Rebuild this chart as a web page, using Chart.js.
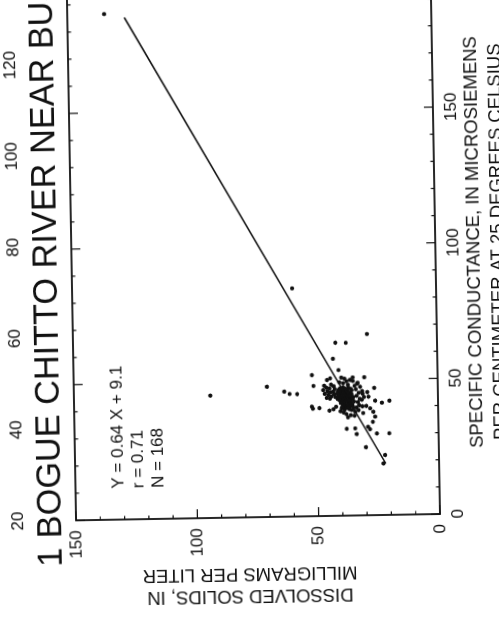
<!DOCTYPE html>
<html>
<head>
<meta charset="utf-8">
<title>Bogue Chitto River near Bush</title>
<script src="https://cdn.jsdelivr.net/npm/chart.js@4.4.1/dist/chart.umd.min.js"></script>
<style>
  html, body { margin: 0; padding: 0; background: #fff; overflow: hidden; width: 499px; height: 634px; }
  /* the scanned page is turned a little more than a quarter turn */
  #page { position: absolute; left: 320px; top: 74px; width: 680px; height: 520px;
          transform-origin: 120px 440px; transform: rotate(-91deg); }
</style>
</head>
<body>
<div id="page"><canvas id="chart" width="680" height="520"></canvas></div>
<script>
  // specific conductance (uS/cm), one value per sample
  const conductance = [
    186.4, 84.1, 45.1, 48.0, 66.8, 63.8, 63.7, 57.9, 53.7, 52.0,
    50.9, 50.1, 50.7, 50.9, 50.9, 48.9, 48.0, 46.1, 45.2, 45.1,
    46.9, 40.4, 39.6, 39.8, 38.8, 39.3, 40.2, 39.6, 43.7, 42.2,
    41.4, 42.1, 40.3, 39.4, 38.1, 36.3, 34.4, 37.7, 32.0, 32.1,
    30.0, 31.7, 30.1, 30.1, 25.1, 22.1, 19.0, 45.8, 45.4, 32.6,
    47.0, 47.3, 46.8, 47.1, 46.5, 46.6, 46.3, 46.7, 46.0, 45.9,
    46.1, 45.8, 46.2, 45.5, 45.4, 45.6, 45.3, 45.0, 44.9, 45.1,
    44.8, 45.2, 44.9, 44.5, 44.4, 44.6, 44.3, 44.0, 43.9, 44.1,
    43.8, 44.0, 43.7, 43.5, 43.4, 43.6, 43.3, 43.0, 42.9, 43.1,
    42.8, 43.0, 42.5, 42.6, 42.4, 42.5, 42.0, 41.9, 42.1, 41.8,
    42.0, 41.5, 41.6, 41.4, 41.0, 40.9, 41.1, 40.8, 40.5, 40.6,
    40.4, 40.0, 39.9, 40.1, 39.8, 39.5, 39.6, 39.0, 39.2, 38.9,
    48.0, 47.3, 47.0, 46.4, 46.0, 45.6, 45.0, 44.6, 44.0, 43.5,
    43.2, 48.4, 47.8, 46.8, 45.8, 44.8, 43.8,
    46.5, 45.2, 44.1, 43.0, 41.8, 40.6, 47.8, 48.6, 39.8, 42.6, 44.8, 38.3,
    49.2, 48.8, 49.5, 48.2, 38.5, 38.0, 37.4,
    50.0, 49.6, 37.0, 36.8, 38.8, 50.5, 47.4, 36.2, 40.2, 43.6, 44.2, 42.2
  ];
  // dissolved solids (mg/L), same order
  const dissolvedSolids = [
    134.8, 59.3, 93.8, 70.4, 28.8, 41.9, 37.6, 43.0, 40.8, 51.8,
    39.7, 45.6, 44.3, 35.0, 30.2, 33.0, 51.2, 63.3, 61.1, 58.0,
    26.2, 52.0, 51.6, 48.9, 44.8, 43.1, 42.0, 39.7, 28.6, 25.9,
    23.1, 20.0, 29.6, 28.0, 26.7, 26.0, 27.0, 30.9, 37.8, 34.3,
    33.7, 28.2, 25.4, 20.3, 30.0, 22.2, 22.9, 31.2, 29.1, 29.0,
    40.2, 39.0, 38.1, 36.8, 40.8, 39.6, 37.5, 35.9, 41.2, 39.9,
    38.6, 37.2, 35.5, 40.3, 38.9, 37.7, 36.4, 41.5, 40.0, 39.1,
    38.0, 36.9, 35.6, 40.6, 39.4, 38.3, 37.0, 41.0, 39.8, 38.8,
    37.6, 36.3, 34.9, 40.1, 38.5, 37.3, 35.8, 41.3, 39.5, 38.2,
    36.9, 35.2, 40.4, 39.0, 37.8, 36.5, 39.6, 38.4, 37.1, 35.9,
    34.6, 40.0, 38.7, 36.8, 39.2, 38.0, 36.6, 35.3, 38.9, 37.4,
    36.0, 39.5, 37.9, 36.7, 34.8, 38.3, 37.0, 38.6, 36.4, 35.5,
    46.8, 45.9, 44.6, 47.2, 45.5, 44.2, 46.6, 45.1, 43.9, 45.8,
    44.5, 44.0, 42.9, 42.5, 43.0, 42.8, 42.3,
    33.8, 32.6, 33.5, 32.2, 33.0, 32.5, 34.3, 33.2, 33.6, 31.4, 31.0, 34.2,
    40.5, 39.0, 37.6, 37.0, 40.2, 38.9, 37.8,
    36.2, 35.0, 36.0, 34.5, 32.8, 38.4, 32.0, 37.2, 31.2, 30.5, 36.0, 36.2
  ];

  // ends of the fitted line as drawn
  const fitLineX = [19, 185];
  const fitLineY = [22.0, 126.5];

  const xTickLabels = [0, 50, 100, 150];
  const yTickLabels = [0, 50, 100, 150];
  // tick labels of the neighbouring graph, cut by the scan
  const neighbourTicks = [20, 40, 60, 80, 100, 120];

  const titleText = '1 BOGUE CHITTO RIVER NEAR BUSH, LA.';
  const fitText = ['Y = 0.64 X + 9.1', 'r = 0.71', 'N = 168'];
  const xTitle = ['SPECIFIC CONDUCTANCE, IN MICROSIEMENS', 'PER CENTIMETER AT 25 DEGREES CELSIUS'];
  const yTitle = ['DISSOLVED SOLIDS, IN', 'MILLIGRAMS PER LITER'];

  const FONT = "'Liberation Sans', Arial, Helvetica, sans-serif";
  const INK = '#111';
  Chart.defaults.font.family = FONT;
  Chart.defaults.color = INK;

  // box round the plot with short ticks pointing inwards
  const framePlugin = {
    id: 'frame',
    afterDraw(chart) {
      const { ctx, chartArea: a, scales: { x, y } } = chart;
      ctx.save();
      ctx.strokeStyle = INK;
      ctx.lineWidth = 1.8;
      ctx.strokeRect(a.left, a.top, a.right - a.left, a.bottom - a.top);
      ctx.lineWidth = 1.2;
      ctx.beginPath();
      x.ticks.forEach(t => {
        const px = x.getPixelForValue(t.value);
        const len = t.value % 50 === 0 ? 9 : 3.5;
        ctx.moveTo(px, a.bottom); ctx.lineTo(px, a.bottom - len);
        ctx.moveTo(px, a.top); ctx.lineTo(px, a.top + len);
      });
      y.ticks.forEach(t => {
        const py = y.getPixelForValue(t.value);
        const len = t.value % 50 === 0 ? 9 : 3.5;
        ctx.moveTo(a.left, py); ctx.lineTo(a.left + len, py);
        ctx.moveTo(a.right, py); ctx.lineTo(a.right - len, py);
      });
      ctx.stroke();
      ctx.restore();
    }
  };

  // titles and notes printed on the page
  const textPlugin = {
    id: 'pageText',
    afterDraw(chart) {
      const { ctx, chartArea: a } = chart;
      ctx.save();
      ctx.fillStyle = INK;
      ctx.textBaseline = 'alphabetic';

      ctx.textAlign = 'left';
      ctx.font = '34.3px ' + FONT;
      ctx.fillText(titleText, 74, 61);

      ctx.textAlign = 'center';
      ctx.font = '17px ' + FONT;
      neighbourTicks.forEach(t => {
        ctx.fillText(String(t), a.left + 0.3 + (t - 20) * 4.56, 23);
      });

      ctx.textAlign = 'left';
      fitText.forEach((line, i) => ctx.fillText(line, 151, 123.5 + i * 20));

      ctx.textAlign = 'center';
      ctx.font = '18.5px ' + FONT;
      const cx = (a.left + a.right) / 2;
      xTitle.forEach((line, i) => ctx.fillText(line, cx, 484 + i * 24));

      yTitle.forEach((line, i) => {
        ctx.save();
        ctx.translate(47 + i * 22, 249);
        ctx.rotate(-Math.PI / 2);
        ctx.fillText(line, 0, 0);
        ctx.restore();
      });
      ctx.restore();
    }
  };

  new Chart(document.getElementById('chart'), {
    type: 'scatter',
    data: {
      datasets: [
        {
          label: 'Samples',
          data: conductance.map((c, i) => ({ x: c, y: dissolvedSolids[i] })),
          pointRadius: 2.1,
          pointBackgroundColor: INK,
          pointBorderWidth: 0,
          order: 2
        },
        {
          label: 'Fit',
          type: 'line',
          data: fitLineX.map((c, i) => ({ x: c, y: fitLineY[i] })),
          borderColor: INK,
          borderWidth: 1.5,
          pointRadius: 0,
          fill: false,
          order: 1
        }
      ]
    },
    options: {
      responsive: false,
      animation: false,
      layout: { padding: { top: 76, right: 17.4, left: 0, bottom: 0 } },
      plugins: { legend: { display: false }, tooltip: { enabled: false } },
      scales: {
        x: {
          type: 'linear', position: 'bottom', min: 0, max: 200,
          ticks: {
            stepSize: 10, autoSkip: false, maxRotation: 0, padding: 8,
            font: { size: 17 },
            callback: v => xTickLabels.includes(v) ? String(v) : ''
          },
          grid: { display: false, drawTicks: false },
          border: { display: false },
          afterFit: s => { s.height = 80; }
        },
        y: {
          type: 'linear', position: 'left', min: 0, max: 150,
          ticks: {
            stepSize: 10, autoSkip: false, padding: 10,
            font: { size: 17 },
            callback: v => yTickLabels.includes(v) ? String(v) : ''
          },
          grid: { display: false, drawTicks: false },
          border: { display: false },
          afterFit: s => { s.width = 120; }
        }
      }
    },
    plugins: [framePlugin, textPlugin]
  });
</script>
</body>
</html>
